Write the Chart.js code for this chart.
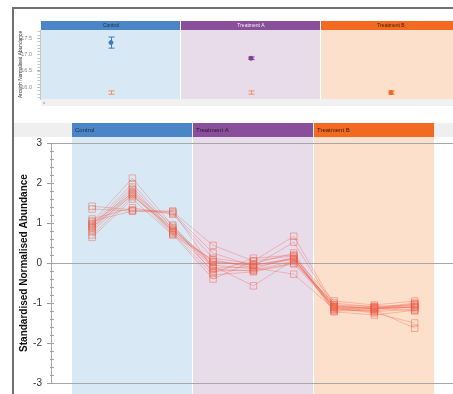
<!DOCTYPE html>
<html>
<head>
<meta charset="utf-8">
<script src="https://cdn.jsdelivr.net/npm/chart.js@4/dist/chart.umd.min.js"></script>
<style>
  html, body { margin: 0; padding: 0; width: 453px; height: 394px; overflow: hidden; background: #fff; }
  #frame { position: absolute; left: 12px; top: 7px; width: 470px; height: 420px;
           border-left: 2px solid #6f6f6f; border-top: 2px solid #6f6f6f; }
  #inset { position: absolute; left: 0; top: 0; width: 453px; height: 110px; }
  #main  { position: absolute; left: 0; top: 110px; width: 453px; height: 284px; }
</style>
</head>
<body>
<div id="frame"></div>
<canvas id="inset" width="453" height="110"></canvas>
<canvas id="main" width="453" height="284"></canvas>
<script>
// ---- groups ----
const groups = ['Control', 'Treatment A', 'Treatment B'];
const groupHeaderColors = ['#4a86c7', '#8a4f9b', '#f26a22'];
const groupPanelColors  = ['#d9e8f5', '#e8dcea', '#fde0cc'];

// ---- samples (three replicates per group) ----
const samples = ['Control 1', 'Control 2', 'Control 3',
                 'Treatment A 1', 'Treatment A 2', 'Treatment A 3',
                 'Treatment B 1', 'Treatment B 2', 'Treatment B 3'];

// ---- standardised abundance profile of each feature in the cluster ----
const feature01 = [1.42, 1.33, 1.28,  0.44,  0.05,  0.67, -1.05, -1.15, -1.05];
const feature02 = [1.35, 1.30, 1.25,  0.25, -0.08,  0.52, -1.10, -1.20, -1.08];
const feature03 = [1.10, 1.38, 1.22,  0.12, -0.02,  0.25, -1.15, -1.12, -1.00];
const feature04 = [1.02, 2.12, 0.92, -0.05, -0.15,  0.15, -0.95, -1.05, -0.95];
const feature05 = [0.96, 1.98, 0.85, -0.12, -0.10,  0.10, -1.08, -1.15, -1.10];
const feature06 = [0.92, 1.90, 0.80, -0.20, -0.18,  0.05, -1.12, -1.25, -1.50];
const feature07 = [0.88, 1.84, 0.78,  0.02, -0.06,  0.12, -1.20, -1.18, -1.63];
const feature08 = [0.83, 1.78, 0.75, -0.30, -0.22, -0.02, -1.10, -1.10, -1.12];
const feature09 = [0.78, 1.72, 0.72, -0.40,  0.05,  0.18, -1.22, -1.30, -1.18];
const feature10 = [0.70, 1.66, 0.88, -0.08, -0.57,  0.08, -1.05, -1.08, -1.05];
const feature11 = [0.64, 1.60, 0.70,  0.08, -0.12, -0.28, -1.15, -1.22, -1.15];
const feature12 = [1.05, 1.30, 1.30, -0.15, -0.20,  0.00, -1.00, -1.10, -1.10];
const feature13 = [0.98, 1.75, 0.95, -0.25,  0.12,  0.20, -1.18, -1.15, -1.02];
const feature14 = [0.90, 1.70, 0.82,  0.04, -0.05,  0.10, -1.10, -1.12, -1.20];
const features = [feature01, feature02, feature03, feature04, feature05, feature06, feature07,
                  feature08, feature09, feature10, feature11, feature12, feature13, feature14];

// ---- arcsinh normalised abundance, selected feature (mean and error per group) ----
const insetGroupMeans  = [17.36, 16.88, 15.83];
const insetGroupErrors = [0.17, 0.04, 0.05];
const insetBaseMeans   = [15.83, 15.83];
const insetBaseErrors  = [0.05, 0.05];

const FONT = '"Liberation Sans", Arial, sans-serif';

// Coloured group panels with a header strip above them
function groupPanels(cfg) {
  return {
    id: 'groupPanels',
    beforeDraw(chart) {
      const { ctx } = chart;
      const xs = chart.scales.x;
      ctx.save();
      if (cfg.stripColor) {
        ctx.fillStyle = cfg.stripColor;
        ctx.fillRect(cfg.stripLeft, cfg.headTop, chart.width - cfg.stripLeft, cfg.headBottom - cfg.headTop);
      }
      if (cfg.footColor) {
        const fl = chart.chartArea.left + 1;
        ctx.fillStyle = cfg.footColor;
        ctx.fillRect(fl, cfg.footTop, chart.width - fl, cfg.footBottom - cfg.footTop);
      }
      groups.forEach((g, i) => {
        const x0 = Math.round(xs.getPixelForValue(cfg.start(i)));
        const x1 = Math.round(xs.getPixelForValue(cfg.end(i)));
        ctx.fillStyle = groupHeaderColors[i];
        ctx.fillRect(x0, cfg.headTop, x1 - x0 - 1, cfg.headBottom - cfg.headTop);
        ctx.fillStyle = groupPanelColors[i];
        ctx.fillRect(x0, cfg.headBottom, x1 - x0 - 1, cfg.panelBottom - cfg.headBottom);
        ctx.fillStyle = cfg.labelColors[i];
        ctx.font = cfg.labelFont;
        ctx.textBaseline = 'middle';
        const ym = (cfg.headTop + cfg.headBottom) / 2 + 0.5;
        if (cfg.labelAlign === 'center') {
          ctx.textAlign = 'center';
          ctx.fillText(g, (x0 + x1) / 2, ym);
        } else {
          ctx.textAlign = 'left';
          ctx.fillText(g, x0 + 3, ym);
        }
      });
      if (cfg.footText) {
        ctx.fillStyle = '#777';
        ctx.font = '4px ' + FONT;
        ctx.textAlign = 'left';
        ctx.textBaseline = 'middle';
        ctx.fillText(cfg.footText, chart.chartArea.left + 3, (cfg.footTop + cfg.footBottom) / 2);
      }
      ctx.restore();
    }
  };
}

// Small unlabelled ticks between the labelled ones on the value axis
function minorTicks(step, x0, x1, color) {
  return {
    id: 'minorTicks',
    afterDraw(chart) {
      const ys = chart.scales.y;
      const { ctx } = chart;
      ctx.save();
      ctx.strokeStyle = color;
      ctx.lineWidth = 1;
      ctx.beginPath();
      const first = Math.ceil(ys.min / step - 1e-9);
      const last = Math.floor(ys.max / step + 1e-9);
      for (let k = first; k <= last; k++) {
        const y = Math.round(ys.getPixelForValue(k * step)) + 0.5;
        ctx.moveTo(x0, y);
        ctx.lineTo(x1, y);
      }
      ctx.stroke();
      ctx.restore();
    }
  };
}

// Vertical error bars with caps, read from each dataset's errors list
const errorBars = {
  id: 'errorBars',
  afterDatasetsDraw(chart) {
    const { ctx } = chart;
    const xs = chart.scales.x, ys = chart.scales.y;
    ctx.save();
    chart.data.datasets.forEach(ds => {
      if (!ds.errors) return;
      ds.data.forEach((p, i) => {
        const e = ds.errors[i];
        const x = Math.round(xs.getPixelForValue(p.x)) + 0.5;
        const yt = ys.getPixelForValue(p.y + e);
        const yb = ys.getPixelForValue(p.y - e);
        const col = Array.isArray(ds.barColor) ? ds.barColor[i] : ds.barColor;
        ctx.strokeStyle = col;
        ctx.lineWidth = 1;
        ctx.beginPath();
        ctx.moveTo(x, yt); ctx.lineTo(x, yb);
        ctx.moveTo(x - 3, yt); ctx.lineTo(x + 3, yt);
        ctx.moveTo(x - 3, yb); ctx.lineTo(x + 3, yb);
        ctx.stroke();
      });
    });
    ctx.restore();
  }
};

// ---------------- inset: arcsinh normalised abundance ----------------
new Chart(document.getElementById('inset'), {
  type: 'scatter',
  data: {
    datasets: [
      {
        data: insetBaseMeans.map((v, i) => ({ x: i, y: v })),
        errors: insetBaseErrors,
        barColor: 'rgba(240,130,70,0.85)',
        pointRadius: 0
      },
      {
        data: insetGroupMeans.map((v, i) => ({ x: i, y: v })),
        errors: insetGroupErrors,
        barColor: ['#3d7cc2', '#7d3f93', '#f06a22'],
        pointBackgroundColor: ['#3d7cc2', '#7d3f93', '#f06a22'],
        pointBorderColor: ['#3d7cc2', '#7d3f93', '#f06a22'],
        pointRadius: 2
      }
    ]
  },
  options: {
    responsive: false,
    animation: false,
    layout: { autoPadding: false, padding: { top: 30, bottom: 11, left: 0, right: 0 } },
    plugins: { legend: { display: false }, tooltip: { enabled: false } },
    scales: {
      x: { type: 'linear', display: false, min: -0.507, max: 2.443 },
      y: {
        min: 15.633, max: 17.745,
        afterFit(s) { s.width = 40; },
        ticks: { stepSize: 0.5, includeBounds: false, font: { size: 5.5, family: FONT }, color: '#8a8a8a',
                 padding: 5, callback: v => v.toFixed(1) },
        grid: { display: true, color: 'rgba(0,0,0,0)', tickColor: '#b5b5b5', tickLength: 3 },
        border: { display: true, color: '#c8c8c8' },
        title: { display: true, text: 'Arcsinh Normalised Abundance', color: '#333',
                 font: { size: 4.8, family: FONT }, padding: { top: 18, bottom: 0 } }
      }
    }
  },
  plugins: [
    groupPanels({
      headTop: 21, headBottom: 30, panelBottom: 99,
      start: i => i - 0.5, end: i => i + 0.5,
      labelAlign: 'center', labelFont: '5px ' + FONT,
      labelColors: ['#1e2a3a', '#eee', '#3a1c0c'],
      footColor: '#f1f1f1', footTop: 99, footBottom: 106, footText: 'x'
    }),
    minorTicks(0.1, 37.5, 40, '#c4c4c4'),
    errorBars
  ]
});

// ---------------- main: standardised profiles ----------------
new Chart(document.getElementById('main'), {
  type: 'line',
  data: {
    datasets: features.map(f => ({
      data: f.map((v, i) => ({ x: i, y: v })),
      borderColor: 'rgba(236,88,66,0.32)',
      borderWidth: 1,
      pointStyle: 'rect',
      pointRadius: 4.6,
      pointBorderWidth: 1,
      pointBorderColor: 'rgba(236,96,72,0.45)',
      pointBackgroundColor: 'rgba(0,0,0,0)',
      tension: 0
    }))
  },
  options: {
    responsive: false,
    animation: false,
    layout: { autoPadding: false, padding: { top: 33, bottom: 11, left: 0, right: 0 } },
    plugins: { legend: { display: false }, tooltip: { enabled: false } },
    scales: {
      x: { type: 'linear', display: false, min: -1.02, max: 8.95 },
      y: {
        min: -3, max: 3,
        afterFit(s) { s.width = 51; },
        ticks: { stepSize: 1, font: { size: 10, family: FONT }, color: '#333', padding: 5 },
        grid: {
          color: c => (c.tick && [3, 0, -3].includes(c.tick.value)) ? '#a8a8a8' : 'rgba(0,0,0,0)',
          tickColor: '#9c9c9c', tickLength: 4, lineWidth: 1
        },
        border: { display: true, color: '#a8a8a8' },
        title: { display: true, text: 'Standardised Normalised Abundance', color: '#111',
                 font: { size: 10, weight: 'bold', family: FONT }, padding: { top: 18, bottom: 0 } }
      }
    }
  },
  plugins: [
    groupPanels({
      headTop: 13, headBottom: 27, panelBottom: 284,
      start: i => i * 3 - 0.5, end: i => i * 3 + 2.5,
      labelAlign: 'left', labelFont: '6px ' + FONT,
      labelColors: ['#1b2a3c', '#2a1530', '#3a1a08'],
      stripColor: '#efefef', stripLeft: 14
    }),
    minorTicks(0.2, 50, 54, '#a0a0a0')
  ]
});
</script>
</body>
</html>
